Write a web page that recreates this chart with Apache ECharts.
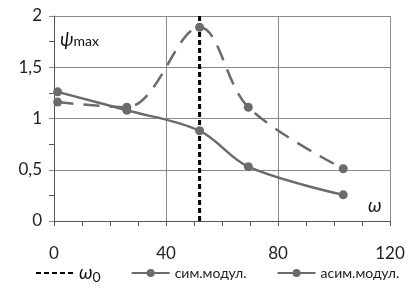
<!DOCTYPE html>
<html>
<head>
<meta charset="utf-8">
<script src="https://cdn.jsdelivr.net/npm/echarts@6/dist/echarts.min.js"></script>
<style>
  html, body { margin: 0; padding: 0; background: #fff; }
  #chart { width: 416px; height: 297px; }
</style>
</head>
<body>
<div id="chart"></div>
<script>
// values
const omega0 = 52;
const symX = [1.3, 26, 52, 69.4, 103.3];
const symY = [1.16, 1.11, 1.89, 1.11, 0.51];
const asymX = [1.3, 26, 52, 69.4, 103.3];
const asymY = [1.26, 1.08, 0.88, 0.53, 0.255];
const xTicks = [0, 40, 80, 120];
const yTicks = [0, 0.5, 1, 1.5, 2];

const font = "Lato";
const grey = "#6b6b6b";

const toPairs = (xs, ys) => xs.map((x, i) => [x, ys[i]]);

const chart = echarts.init(document.getElementById("chart"));
chart.setOption({
  animation: false,
  textStyle: { fontFamily: font },
  grid: { left: 54, right: 26, top: 16, bottom: 76 },
  xAxis: {
    type: "value",
    min: xTicks[0],
    max: xTicks[xTicks.length - 1],
    interval: 40,
    axisLine: { lineStyle: { color: "#555", width: 1 } },
    axisTick: { show: true, length: 5, lineStyle: { color: "#555" } },
    minorTick: { show: true, splitNumber: 4, length: 5, lineStyle: { color: "#555" } },
    axisLabel: { color: "#222", fontSize: 17, margin: 24, fontFamily: font },
    splitLine: { lineStyle: { color: "#8a8a8a", width: 1 } },
  },
  yAxis: {
    type: "value",
    min: yTicks[0],
    max: yTicks[yTicks.length - 1],
    interval: 0.5,
    axisLine: { show: true, lineStyle: { color: "#555", width: 1 } },
    axisTick: { show: true, length: 5, lineStyle: { color: "#888" } },
    minorTick: { show: true, splitNumber: 2, length: 5, lineStyle: { color: "#555" } },
    axisLabel: {
      color: "#222",
      fontSize: 17,
      margin: 12,
      fontFamily: font,
      formatter: (v) => String(v).replace(".", ","),
    },
    splitLine: { lineStyle: { color: "#8a8a8a", width: 1 } },
  },
  legend: {
    bottom: 8,
    left: 30,
    itemWidth: 38,
    itemHeight: 10,
    itemGap: 30,
    textStyle: {
      fontFamily: font,
      fontSize: 14,
      color: "#222",
      rich: {
        w: { fontSize: 19, fontStyle: "italic", fontFamily: font, color: "#111" },
        s: { fontSize: 14, fontFamily: font, color: "#111", padding: [8, 0, 0, 0] },
      },
    },
    formatter: (name) => (name === "omega0" ? "{w|ω}{s|0}" : name),
    data: [
      { name: "omega0", itemStyle: { opacity: 0 } },
      { name: "сим.модул.", lineStyle: { type: "solid" } },
      { name: "асим.модул." },
    ],
  },
  graphic: [
    {
      type: "text",
      left: 60,
      top: 30,
      style: {
        text: "{p|ψ}{m|max}",
        rich: {
          p: { fontSize: 19, fontStyle: "italic", fontFamily: font, fill: "#111" },
          m: { fontSize: 14, fontFamily: font, fill: "#111", padding: [4, 0, 0, 0] },
        },
      },
    },
    {
      type: "text",
      left: 368,
      top: 196,
      style: { text: "ω", fontSize: 19, fontStyle: "italic", fontFamily: font, fill: "#111" },
    },
  ],
  series: [
    {
      name: "omega0",
      type: "line",
      data: [[omega0, 0], [omega0, 2]],
      symbol: "none",
      lineStyle: { color: "#000", width: 3, type: [5, 3] },
      itemStyle: { color: "#000" },
      z: 3,
    },
    {
      name: "сим.модул.",
      type: "line",
      data: toPairs(symX, symY),
      smooth: 0.35,
      symbol: "circle",
      symbolSize: 9,
      lineStyle: { color: grey, width: 2.5, type: [16, 10] },
      itemStyle: { color: grey },
      z: 4,
    },
    {
      name: "асим.модул.",
      type: "line",
      data: toPairs(asymX, asymY),
      smooth: 0.35,
      symbol: "circle",
      symbolSize: 9,
      lineStyle: { color: grey, width: 2.5 },
      itemStyle: { color: grey },
      z: 4,
    },
  ],
});
</script>
</body>
</html>
